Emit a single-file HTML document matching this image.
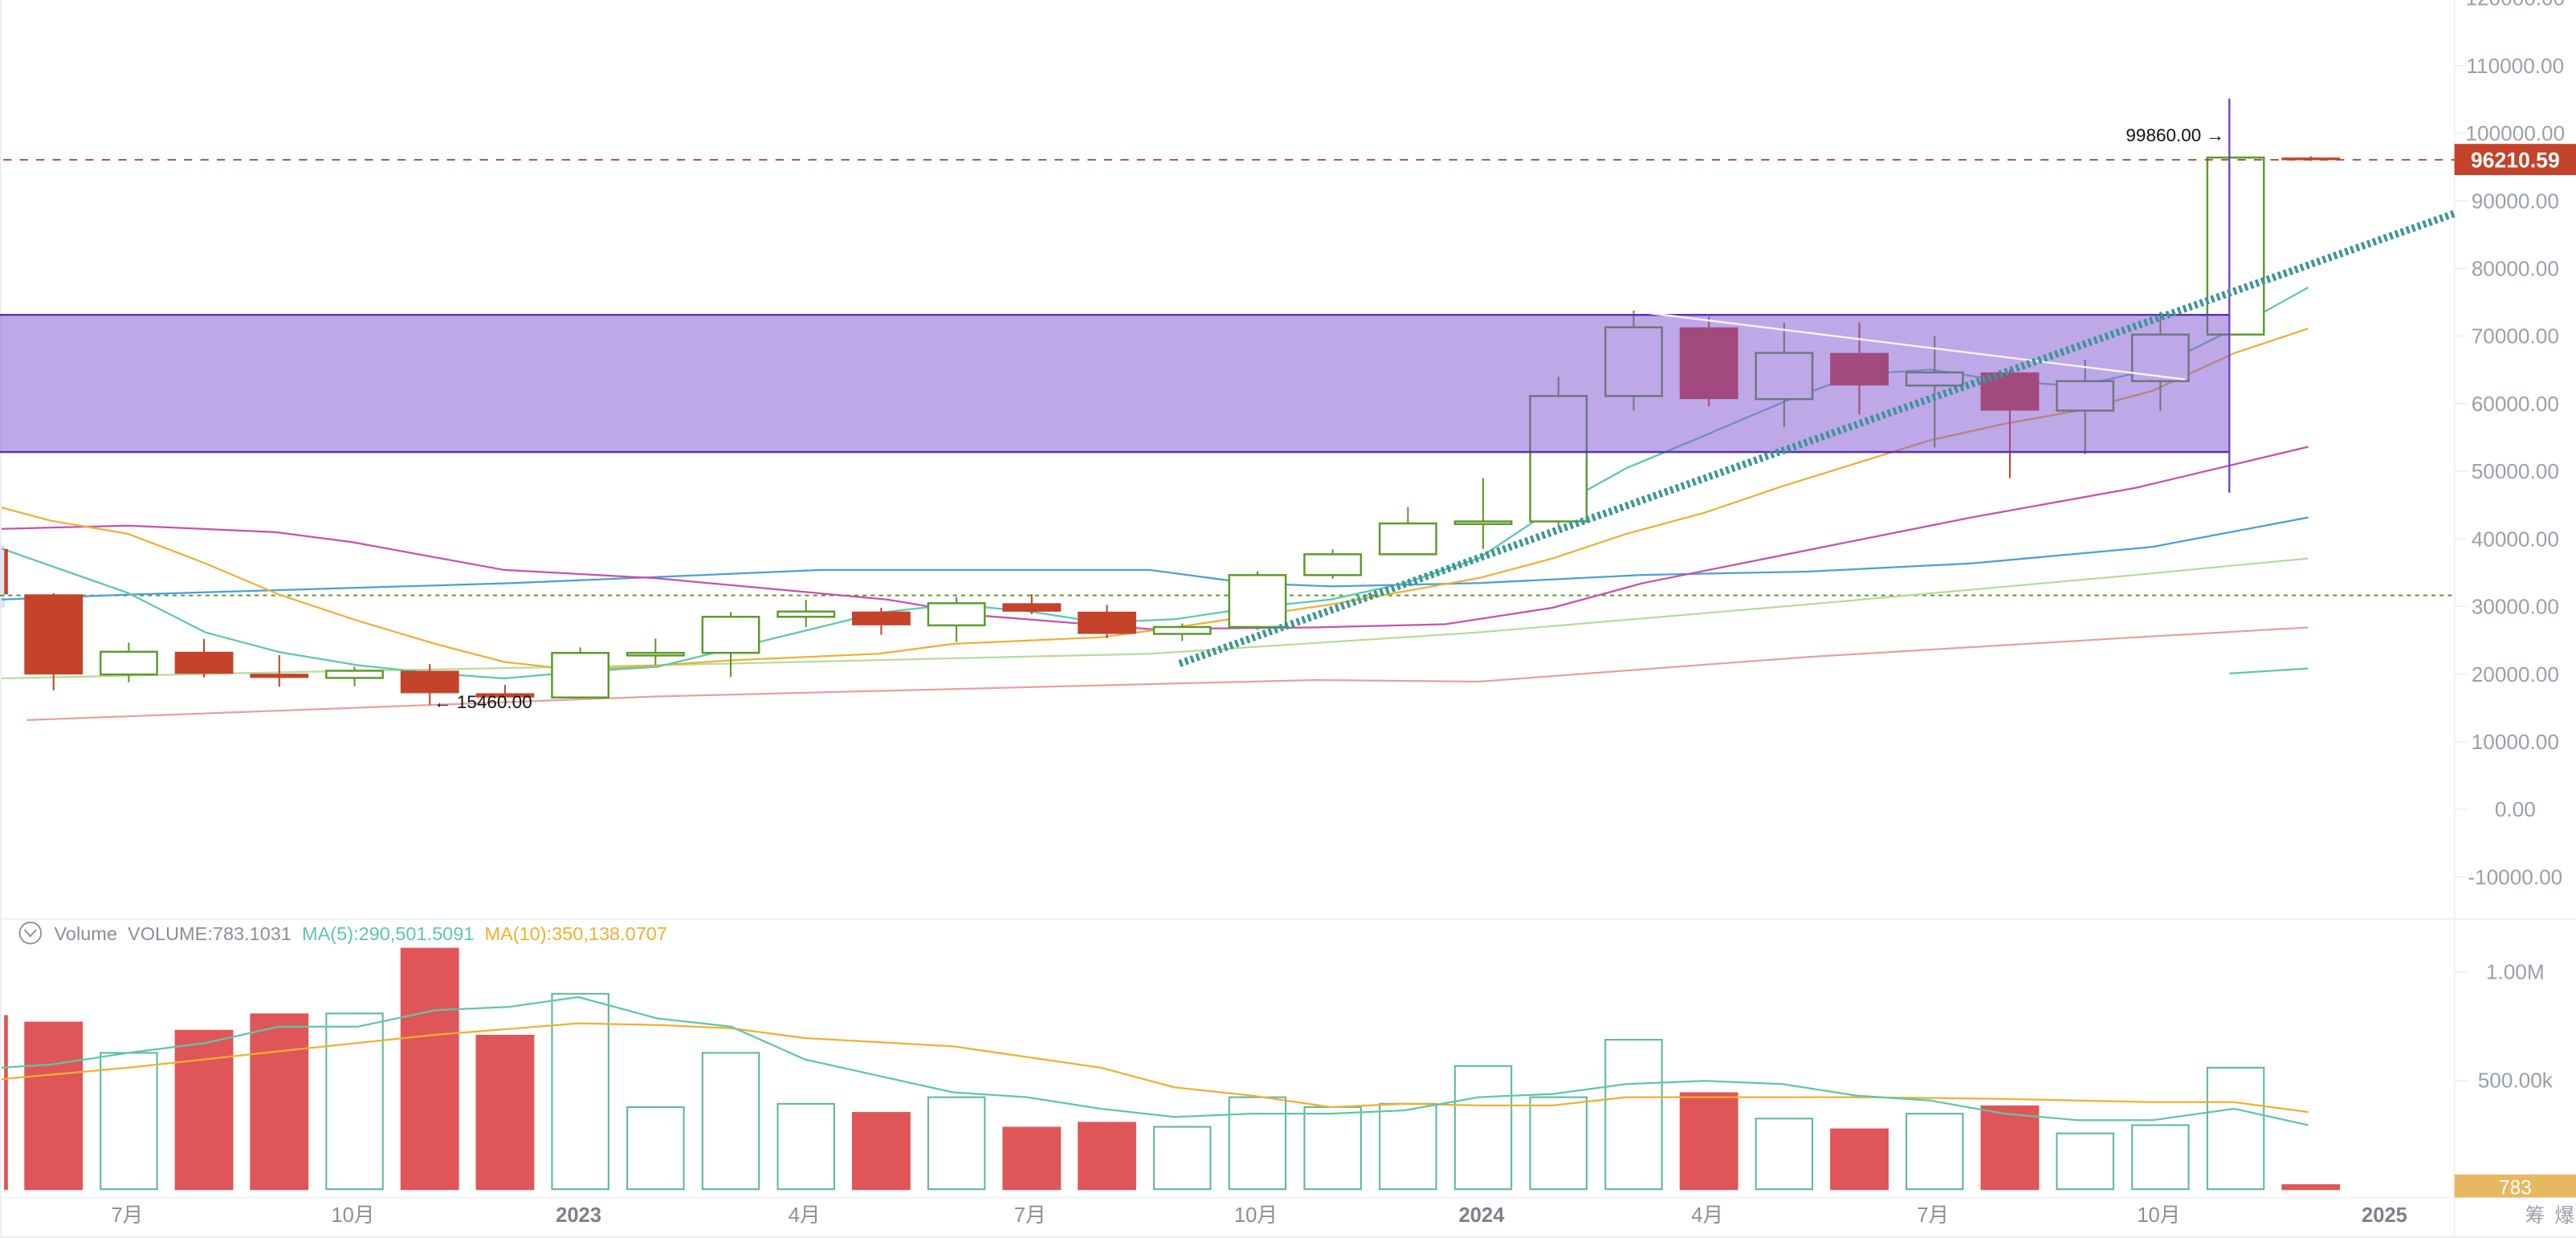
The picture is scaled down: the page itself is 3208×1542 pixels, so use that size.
<!DOCTYPE html>
<html><head><meta charset="utf-8">
<style>
html,body{margin:0;padding:0;background:#fff;width:3208px;height:1542px;overflow:hidden}
svg{display:block}
text{font-family:"Liberation Sans","Noto Sans CJK SC",sans-serif}
</style></head><body>
<svg id="c" width="3208" height="1542" viewBox="0 0 1568 753.7" preserveAspectRatio="none" xmlns="http://www.w3.org/2000/svg">
<rect x="0" y="0" width="1568" height="754" fill="#fff"/>
<g id="g"></g>
</svg>
<script>
const NS="http://www.w3.org/2000/svg";
const g=document.getElementById('g');
function el(t,a,txt){const e=document.createElementNS(NS,t);for(const k in a)e.setAttribute(k,a[k]);if(txt!==undefined)e.textContent=txt;g.appendChild(e);return e;}
const Y=p=>492.7-p*0.004116;
const X=i=>78.4+45.8*i;
el('rect',{x:0,y:0,width:1,height:754,fill:'#eceef2'});
el('rect',{x:0,y:332,width:3,height:38,fill:'#e3e5ea',rx:1});
el('line',{x1:0,y1:559.5,x2:1568,y2:559.5,stroke:'#eef0f3','stroke-width':1});
el('line',{x1:0,y1:729,x2:1568,y2:729,stroke:'#eef0f3','stroke-width':1});
el('line',{x1:1494,y1:0,x2:1494,y2:754,stroke:'#eef0f3','stroke-width':1});
el('line',{x1:0,y1:753,x2:1568,y2:753,stroke:'#eef0f3','stroke-width':1.5});
for(let p=120000;p>=-10000;p-=10000){
  const y=Y(p);
  el('line',{x1:1494,y1:y,x2:1502,y2:y,stroke:'#e8eaee','stroke-width':0.6});
  el('text',{x:1531,y:y+4.5,'font-size':12.8,fill:'#9aa0aa','text-anchor':'middle'},p.toFixed(2));
}
el('line',{x1:0,y1:362.5,x2:1494,y2:362.5,stroke:'#5a9a2a','stroke-width':1,'stroke-dasharray':'2.5,2.5'});
function pl(pts,col,w){el('polyline',{points:pts.map(p=>p.join(',')).join(' '),fill:'none',stroke:col,'stroke-width':w||1,'stroke-linejoin':'round'});}
pl([[16.4,438.4],[187,432],[400,424],[600,419],[800,414],[900,415],[1100,400],[1300,388],[1405,382]],'#e8a0a0',1.1);
pl([[1,413],[187,409],[400,405],[700,398],[900,385],[1100,368],[1300,350],[1405,340]],'#b5dc98',1.1);
pl([[1,365],[78,362],[312,355],[500,347],[600,347],[700,347],[760,355],[810,357],[900,355],[1000,350],[1100,348],[1200,343],[1310,333],[1405,315]],'#4a9fd8',1.1);
pl([[1,322],[78,320],[168,324],[214,330],[307,347],[399,352],[540,365],[600,375],[700,383],[800,382],[880,380],[945,370],[1000,355],[1100,335],[1200,315],[1300,297],[1405,272]],'#c850b0',1.1);
pl([[1,309],[31,317],[78,325],[125,343],[170,362],[218,378],[265,392],[307,403],[352,408],[400,405],[445,402],[490,400],[535,398],[580,392],[625,390],[670,388],[715,382],[762,375],[810,368],[855,360],[900,352],[945,340],[990,325],[1038,312],[1085,296],[1130,282],[1175,268],[1220,258],[1265,250],[1310,238],[1360,215],[1405,200]],'#f0b030',1.1);
pl([[1,334],[78,361],[125,385],[170,397],[218,405],[265,410],[307,413],[352,409],[400,406],[445,395],[490,384],[535,373],[580,368],[625,372],[670,379],[715,377],[762,370],[810,365],[855,355],[900,340],[945,310],[990,285],[1038,265],[1085,245],[1130,228],[1175,225],[1220,232],[1265,235],[1310,225],[1360,200],[1405,175]],'#5cc8b0',1.1);
pl([[1357,410],[1405,407]],'#5cc8b0',1.1);
const C=[[31790,31980,17600,19940],[19940,24670,18780,23300],[23300,25200,19520,20050],[20050,22800,18130,19430],[19430,21090,18190,20490],[20490,21480,15460,17170],[17170,18390,16260,16540],[16540,23950,16500,23130],[23130,25250,21350,23140],[23140,29190,19550,28470],[28470,31000,26940,29250],[29250,29820,25800,27210],[27210,31390,24750,30480],[30480,31800,28860,29230],[29230,30240,25300,25940],[25940,27480,24900,26960],[26960,35200,26540,34640],[34640,38450,34100,37720],[37720,44700,37600,42280],[42280,48970,38500,42580],[42580,64000,41880,61130],[61130,73780,59000,71290],[71290,72800,59600,60670],[60670,71950,56550,67500],[67500,71980,58400,62680],[62680,70000,53500,64620],[64620,65000,49000,58970],[58970,66500,52550,63330],[63330,73600,58900,70220],[70220,96400,66800,96400],[96400,96600,95900,96210]];
const W=35.6;
el('rect',{x:2.6,y:Y(38500),width:2.2,height:Y(31790)-Y(38500),fill:'#c4432a'});
C.forEach((c,k)=>{
  const i=k-1,x=X(i);const [o,h,l,cl]=c;const up=cl>=o;
  const col=up?'#5a9a2a':'#c4432a';
  if(k!==29)el('line',{x1:x,y1:Y(h),x2:x,y2:Y(l),stroke:col,'stroke-width':1});
  const t=Y(Math.max(o,cl)),b=Y(Math.min(o,cl));
  const hh=Math.max(b-t,1.6);
  if(up) el('rect',{x:x-W/2+0.6,y:t,width:W-1.2,height:hh,fill:'#fff',stroke:col,'stroke-width':1.2});
  else el('rect',{x:x-W/2,y:t,width:W,height:hh,fill:col});
});
el('rect',{x:0,y:191.7,width:1357,height:83.5,fill:'rgba(127,81,209,0.5)'});
el('line',{x1:0,y1:191.7,x2:1357,y2:191.7,stroke:'#5a2fb5','stroke-width':1.2});
el('line',{x1:0,y1:275.2,x2:1357,y2:275.2,stroke:'#5a2fb5','stroke-width':1.2});
el('line',{x1:1357,y1:60,x2:1357,y2:300,stroke:'#6a3ac8','stroke-width':1.1});
el('line',{x1:1003,y1:190.5,x2:1330,y2:231,stroke:'#f4f2fa','stroke-width':1.2});
el('line',{x1:718,y1:404,x2:1494,y2:130,stroke:'#3a9598','stroke-width':4.5,'stroke-dasharray':'1.8,1.8'});
el('line',{x1:2,y1:97.3,x2:1494,y2:97.3,stroke:'#b94a2c','stroke-width':0.9,'stroke-dasharray':'5,5'});
el('rect',{x:1494,y:87.6,width:74,height:19,fill:'#c4432a'});
el('text',{x:1531,y:102,'font-size':13,fill:'#fff','text-anchor':'middle','font-weight':'bold'},'96210.59');
el('text',{x:264,y:431,'font-size':11,fill:'#111'},'← 15460.00');
el('text',{x:1294,y:86,'font-size':11,fill:'#111'},'99860.00 →');
el('text',{x:1531,y:596,'font-size':12.8,fill:'#9aa0aa','text-anchor':'middle'},'1.00M');
el('text',{x:1531,y:662,'font-size':12.8,fill:'#9aa0aa','text-anchor':'middle'},'500.00k');
el('line',{x1:1494,y1:591.6,x2:1502,y2:591.6,stroke:'#e8eaee','stroke-width':0.6});
el('line',{x1:1494,y1:657.9,x2:1502,y2:657.9,stroke:'#e8eaee','stroke-width':0.6});
const V=[[622,0],[641,1],[627,0],[617,0],[617,1],[577,0],[630,0],[605,1],[674,1],[641,1],[672,1],[677,0],[668,1],[686,0],[683,0],[686,1],[668,1],[674,1],[672,1],[649,1],[668,1],[633,1],[665,0],[681,1],[687,0],[678,1],[673,0],[690,1],[685,1],[650,1],[721,0]];
el('rect',{x:2.5,y:618,width:2.3,height:106.5,fill:'#e05558'});
V.forEach((v,k)=>{
  const x=X(k-1);const t=v[0];
  if(v[1]) el('rect',{x:x-W/2+0.6,y:t,width:W-1.2,height:724-t,fill:'none',stroke:'#5cb898','stroke-width':1});
  else el('rect',{x:x-W/2,y:t,width:W,height:724.5-t,fill:'#e05558'});
});
pl([[1,657],[78,650],[170,640],[265,630],[352,623],[400,624],[445,626],[490,632],[580,637],[670,650],[715,662],[762,667],[810,674],[855,672],[900,673],[945,673],[990,668],[1038,668],[1130,668],[1220,669],[1310,671],[1360,671],[1405,677]],'#f0b030',1.1);
pl([[1,650],[32,648],[78,641],[125,635],[170,625],[218,625],[265,615],[310,613],[352,607],[400,620],[445,625],[490,645],[535,655],[580,665],[625,668],[670,675],[715,680],[762,678],[810,678],[855,676],[900,668],[945,666],[990,660],[1038,658],[1085,660],[1130,667],[1175,670],[1220,678],[1265,682],[1310,682],[1360,675],[1405,685]],'#5cc8a8',1.1);
el('rect',{x:1494,y:715,width:74,height:14,fill:'#e8b860'});
el('text',{x:1531,y:727,'font-size':12,fill:'#fff','text-anchor':'middle'},'783');
el('circle',{cx:18.5,cy:568,r:6.5,fill:'none',stroke:'#8a8f99','stroke-width':0.9});
el('polyline',{points:'15,566 18.5,570 22,566',fill:'none',stroke:'#8a8f99','stroke-width':0.9});
const lt=el('text',{x:33,y:572.3,'font-size':11.5});
[['Volume  ','#8a8f99'],['VOLUME:783.1031  ','#8a8f99'],['MA(5):290,501.5091  ','#5cc8a8'],['MA(10):350,138.0707','#f0b030']].forEach(s=>{const t=document.createElementNS(NS,'tspan');t.setAttribute('fill',s[1]);t.textContent=s[0];lt.appendChild(t);});
lt.setAttribute('style','white-space:pre');
[['7月',0,0],['10月',3,0],['2023',6,1],['4月',9,0],['7月',12,0],['10月',15,0],['2024',18,1],['4月',21,0],['7月',24,0],['10月',27,0],['2025',30,1]].forEach(a=>{
  el('text',{x:X(a[1])-1,y:744,'font-size':12.5,fill:a[2]?'#7c818b':'#8a8f99','font-weight':a[2]?'bold':'normal','text-anchor':'middle'},a[0]);
});
el('text',{x:1543,y:744,'font-size':12,fill:'#9aa0aa','text-anchor':'middle'},'筹');
el('text',{x:1561,y:744,'font-size':12,fill:'#9aa0aa','text-anchor':'middle'},'爆');
</script>
</body></html>
